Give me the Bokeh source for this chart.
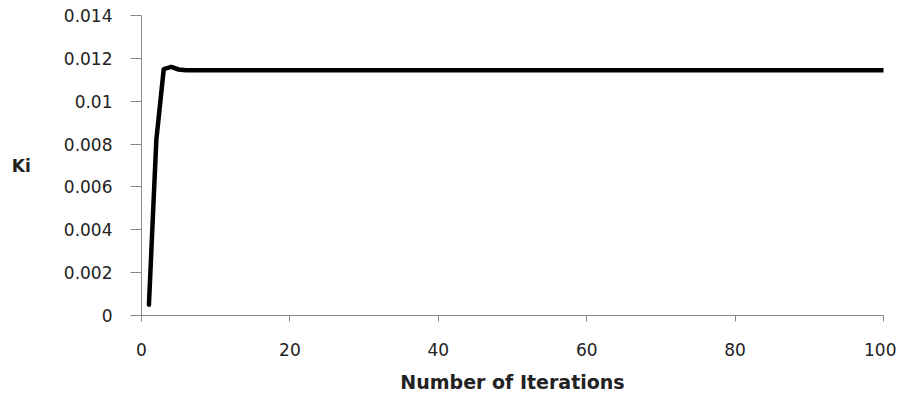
from bokeh.plotting import figure
from bokeh.models import Range1d, FixedTicker, Label
from bokeh.embed import file_html
from bokeh.resources import INLINE

# ---- data ----
iterations = list(range(1, 101))
ki_values = [
    0.0005, 0.0082, 0.0115, 0.0116, 0.01148, 0.01144, 0.01144, 0.01144, 0.01144, 0.01144,
    0.01144, 0.01144, 0.01144, 0.01144, 0.01144, 0.01144, 0.01144, 0.01144, 0.01144, 0.01144,
    0.01144, 0.01144, 0.01144, 0.01144, 0.01144, 0.01144, 0.01144, 0.01144, 0.01144, 0.01144,
    0.01144, 0.01144, 0.01144, 0.01144, 0.01144, 0.01144, 0.01144, 0.01144, 0.01144, 0.01144,
    0.01144, 0.01144, 0.01144, 0.01144, 0.01144, 0.01144, 0.01144, 0.01144, 0.01144, 0.01144,
    0.01144, 0.01144, 0.01144, 0.01144, 0.01144, 0.01144, 0.01144, 0.01144, 0.01144, 0.01144,
    0.01144, 0.01144, 0.01144, 0.01144, 0.01144, 0.01144, 0.01144, 0.01144, 0.01144, 0.01144,
    0.01144, 0.01144, 0.01144, 0.01144, 0.01144, 0.01144, 0.01144, 0.01144, 0.01144, 0.01144,
    0.01144, 0.01144, 0.01144, 0.01144, 0.01144, 0.01144, 0.01144, 0.01144, 0.01144, 0.01144,
    0.01144, 0.01144, 0.01144, 0.01144, 0.01144, 0.01144, 0.01144, 0.01144, 0.01144, 0.01144,
]
xtick_vals = [0, 20, 40, 60, 80, 100]
xtick_labels = ["0", "20", "40", "60", "80", "100"]
ytick_vals = [0, 0.002, 0.004, 0.006, 0.008, 0.01, 0.012, 0.014]
ytick_labels = ["0", "0.002", "0.004", "0.006", "0.008", "0.01", "0.012", "0.014"]
x_title = "Number of Iterations"
y_title = "Ki"

FONT = "DejaVu Sans"
TEXT = "#222222"
AXIS = "#888888"

p = figure(width=896, height=396, output_backend="svg", toolbar_location=None,
           x_range=Range1d(0, 100), y_range=Range1d(0, 0.014),
           min_border_left=141, min_border_right=13, min_border_top=15, min_border_bottom=81)
p.outline_line_color = None
p.xgrid.visible = False
p.ygrid.visible = False
p.background_fill_color = "white"
p.border_fill_color = "white"

p.line(iterations, ki_values, line_color="black", line_width=4.5,
       line_join="round", line_cap="round")

for ax in (p.xaxis[0], p.yaxis[0]):
    ax.axis_line_color = AXIS
    ax.axis_line_width = 1
    ax.major_tick_line_color = AXIS
    ax.major_tick_in = 0
    ax.minor_tick_line_color = None
    ax.major_label_text_font = FONT
    ax.major_label_text_font_size = "17px"
    ax.major_label_text_color = TEXT
    ax.axis_label_text_font = FONT
    ax.axis_label_text_font_style = "bold"
    ax.axis_label_text_color = TEXT

xa = p.xaxis[0]
xa.ticker = FixedTicker(ticks=xtick_vals)
xa.major_label_overrides = dict(zip(xtick_vals, xtick_labels))
xa.major_tick_out = 6
xa.major_label_standoff = 21
xa.axis_label = x_title
xa.axis_label_text_font_size = "19px"
xa.axis_label_standoff = 12

ya = p.yaxis[0]
ya.ticker = FixedTicker(ticks=ytick_vals)
ya.major_label_overrides = dict(zip(ytick_vals, ytick_labels))
ya.major_tick_out = 11
ya.major_label_standoff = 18

try:
    ya.axis_label_orientation = "horizontal"
    ya.axis_label = y_title
    ya.axis_label_text_font_size = "17px"
    ya.axis_label_standoff = 30
except AttributeError:
    p.add_layout(Label(x=-120, y=150, x_units="screen", y_units="screen", text=y_title,
                       text_font=FONT, text_font_style="bold", text_font_size="17px",
                       text_color=TEXT, text_align="center", text_baseline="middle"))

open("out.html", "w").write(file_html(p, INLINE))
